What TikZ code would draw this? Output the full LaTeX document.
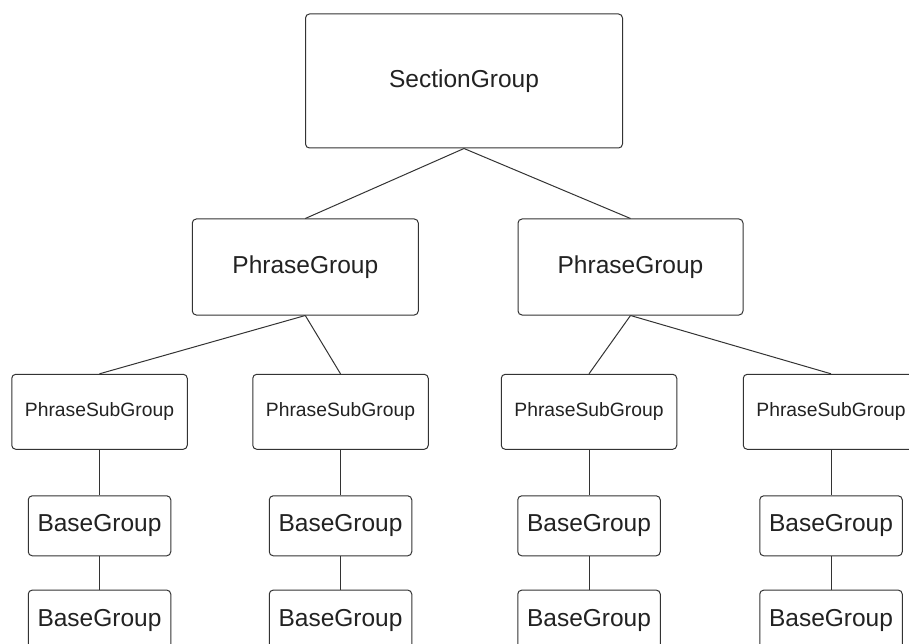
\documentclass[tikz,border=0pt]{standalone}
\usepackage{fontspec}
\setmainfont{Liberation Sans}
\usepackage{tikz}
\usetikzlibrary{positioning}
\definecolor{boxline}{HTML}{333333}
\definecolor{boxtext}{HTML}{222222}
\tikzset{>=latex}

\begin{document}
\begin{tikzpicture}[x=1pt, y=-1pt]
        % sec = section group, pg = phrase group, psg = phrase sub group, bg = base group
        \tikzstyle{every node}=[draw=boxline, line width=1pt, rounded corners=4pt, text=boxtext, inner sep=0pt]
        \tikzstyle{link}=[boxline, line width=1pt]
        \tikzstyle{big}=[font=\fontsize{24.5}{28}\selectfont]
        \tikzstyle{small}=[font=\fontsize{19.3}{22}\selectfont, minimum width=175.5pt, minimum height=75pt]
        \tikzstyle{base}=[big, minimum width=142.5pt, minimum height=60pt]
        \useasboundingbox (0,0) rectangle (909,644);

        \node[big, minimum width=317pt, minimum height=134pt] (sec) at (464,81) {SectionGroup};

        \node[big, minimum width=226pt, minimum height=96pt] (pgL) at (305.3,267) {PhraseGroup};
        \node[big, minimum width=225pt, minimum height=96pt] (pgR) at (630.5,267) {PhraseGroup};
        \draw[link] (sec.south) -- (pgL.north);
        \draw[link] (sec.south) -- (pgR.north);

        \node[small] (psgA) at (99.5,411.8) {PhraseSubGroup};
        \node[small] (psgB) at (340.5,411.8) {PhraseSubGroup};
        \node[small] (psgC) at (589,411.8) {PhraseSubGroup};
        \node[small] (psgD) at (831,411.8) {PhraseSubGroup};
        \draw[link] (pgL.south) -- (psgA.north);
        \draw[link] (pgL.south) -- (psgB.north);
        \draw[link] (pgR.south) -- (psgC.north);
        \draw[link] (pgR.south) -- (psgD.north);

        \foreach \col in {A,B,C,D}{
                \node[base, below=45.5pt of psg\col] (bg\col) {BaseGroup};
                \node[base, below=33.3pt of bg\col] (bbg\col) {BaseGroup};
                \draw[link] (psg\col.south) -- (bg\col.north);
                \draw[link] (bg\col.south) -- (bbg\col.north);
        }

        %\draw[->, red, dashed] (bgA.east) to (bgB.west);
\end{tikzpicture}
\end{document}
